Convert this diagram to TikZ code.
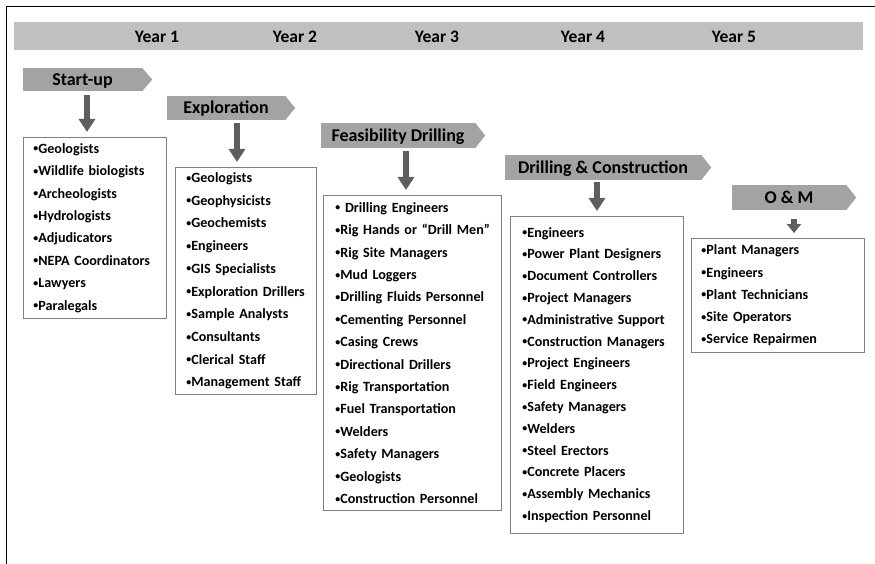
\documentclass[tikz,border=0pt]{standalone}
\usepackage{fontspec}
\usepackage{graphicx}
\setmainfont{Carlito}
\usetikzlibrary{arrows.meta,calc}
\definecolor{bandgray}{HTML}{C0C0C0}
\definecolor{phasegray}{HTML}{A3A3A3}
\definecolor{arrowgray}{HTML}{5E5E5E}
\definecolor{boxgray}{HTML}{808080}
\newcommand\bul{\raisebox{0.1em}{\scalebox{0.7}{•}}}
\begin{document}
\begin{tikzpicture}[x=1pt,y=-1pt,
  yearlbl/.style={font=\bfseries\fontsize{17.5}{20}\selectfont, anchor=base, inner sep=0pt},
  phase/.style={fill=phasegray, draw=none, inner sep=0pt, text height=11.6pt, text depth=0pt,
    font=\bfseries\fontsize{18}{20}\selectfont},
  dnarrow/.style={draw=arrowgray, line width=6pt, -{Triangle[width=16pt,length=13pt]},
    shorten <=3pt, shorten >=5pt},
  listbox/.style={draw=boxgray, line width=0.9pt, anchor=north west, align=left,
    inner ysep=0pt, font=\bfseries\fontsize{14.1}{22.4}\selectfont}
]
\useasboundingbox (0,0) rectangle (875,564);
\fill[white] (0,0) rectangle (875,564);
% frame
\draw[line width=1.4pt] (6.5,564) -- (6.5,6.5) -- (875,6.5);
% year band
\node[fill=bandgray, minimum width=849pt, minimum height=28pt, inner sep=0pt, anchor=north west] (band) at (14,22) {};
\node[yearlbl] (y1) at (157,42.5) {Year 1};
\node[yearlbl] (y2) at (295,42.5) {Year 2};
\node[yearlbl] (y3) at (437,42.5) {Year 3};
\node[yearlbl] (y4) at (583,42.5) {Year 4};
\node[yearlbl] (y5) at (734,42.5) {Year 5};
% phases
\node[phase, minimum width=119pt, minimum height=23pt] (p1) at (82.5,79.5) {Start-up};
\node[phase, minimum width=118pt, minimum height=24pt] (p2) at (226,108) {Exploration};
\node[phase, minimum width=154pt, minimum height=25pt] (p3) at (398,135.5) {Feasibility Drilling};
\node[phase, minimum width=196pt, minimum height=25pt] (p4) at (603,167.5) {Drilling \& Construction};
\node[phase, minimum width=114pt, minimum height=25pt] (p5) at (789,197.5) {O \& M};
\foreach \p in {p1,p2,p3,p4,p5}{
  \fill[phasegray] (\p.north east) -- ($(\p.east)+(10,0)$) -- (\p.south east) -- cycle;
}
% boxes
\node[listbox, minimum height=181pt, text width=123pt, inner xsep=10pt] (b1) at (23,137) {%
\mbox{\bul Geologists}\\ \mbox{\bul Wildlife biologists}\\ \mbox{\bul Archeologists}\\ \mbox{\bul Hydrologists}\\
\mbox{\bul Adjudicators}\\ \mbox{\bul NEPA Coordinators}\\ \mbox{\bul Lawyers}\\ \mbox{\bul Paralegals}};
\node[listbox, minimum height=227pt, text width=119pt, inner xsep=11pt,
  font=\bfseries\fontsize{14.1}{22.7}\selectfont] (b2) at (175,167) {%
\mbox{\bul Geologists}\\ \mbox{\bul Geophysicists}\\ \mbox{\bul Geochemists}\\ \mbox{\bul Engineers}\\
\mbox{\bul GIS Specialists}\\ \mbox{\bul Exploration Drillers}\\ \mbox{\bul Sample Analysts}\\
\mbox{\bul Consultants}\\ \mbox{\bul Clerical Staff}\\ \mbox{\bul Management Staff}};
\node[listbox, minimum height=315pt, text width=154pt, inner xsep=12pt] (b3) at (323,195) {%
\mbox{\bul\ Drilling Engineers}\\ \mbox{\bul Rig Hands or “Drill Men”}\\ \mbox{\bul Rig Site Managers}\\
\mbox{\bul Mud Loggers}\\ \mbox{\bul Drilling Fluids Personnel}\\ \mbox{\bul Cementing Personnel}\\
\mbox{\bul Casing Crews}\\ \mbox{\bul Directional Drillers}\\ \mbox{\bul Rig Transportation}\\
\mbox{\bul Fuel Transportation}\\ \mbox{\bul Welders}\\ \mbox{\bul Safety Managers}\\
\mbox{\bul Geologists}\\ \mbox{\bul Construction Personnel}};
\node[listbox, minimum height=317pt, text width=149pt, inner xsep=12pt,
  font=\bfseries\fontsize{14.1}{21.8}\selectfont] (b4) at (510,216) {%
\mbox{\bul Engineers}\\ \mbox{\bul Power Plant Designers}\\ \mbox{\bul Document Controllers}\\
\mbox{\bul Project Managers}\\ \mbox{\bul Administrative Support}\\ \mbox{\bul Construction Managers}\\
\mbox{\bul Project Engineers}\\ \mbox{\bul Field Engineers}\\ \mbox{\bul Safety Managers}\\
\mbox{\bul Welders}\\ \mbox{\bul Steel Erectors}\\ \mbox{\bul Concrete Placers}\\
\mbox{\bul Assembly Mechanics}\\ \mbox{\bul Inspection Personnel}};
\node[listbox, minimum height=114pt, text width=153pt, inner xsep=10pt,
  font=\bfseries\fontsize{14.1}{22.25}\selectfont] (b5) at (691,238) {%
\mbox{\bul Plant Managers}\\ \mbox{\bul Engineers}\\ \mbox{\bul Plant Technicians}\\
\mbox{\bul Site Operators}\\ \mbox{\bul Service Repairmen}};
% arrows
\coordinate (x1) at (87,0);
\coordinate (x2) at (237,0);
\coordinate (x3) at (406,0);
\coordinate (x4) at (597,0);
\coordinate (x5) at (794,0);
\draw[dnarrow, shorten <=4pt] (p1.south -| x1) -- (b1.north -| x1);
\draw[dnarrow] (p2.south -| x2) -- (b2.north -| x2);
\draw[dnarrow] (p3.south -| x3) -- (b3.north -| x3);
\draw[dnarrow, shorten <=2pt] (p4.south -| x4) -- (b4.north -| x4);
\draw[dnarrow, shorten <=9pt, -{Triangle[width=14pt,length=9pt]}] (p5.south -| x5) -- (b5.north -| x5);
\end{tikzpicture}
\end{document}
